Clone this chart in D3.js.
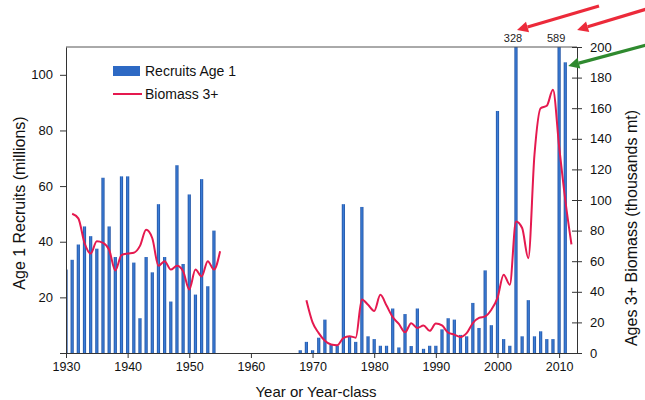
<!DOCTYPE html>
<html>
<head>
<meta charset="utf-8">
<script src="https://cdn.jsdelivr.net/npm/d3@7"></script>
<style>
  html, body { margin: 0; padding: 0; background: #fff; }
  svg { display: block; font-family: "Liberation Sans", Arial, sans-serif; }
</style>
</head>
<body>
<svg id="chart" width="645" height="400"></svg>
<script>
// ---- Data ----
const firstYear = 1930;
const lastYear = 2012;
const years = d3.range(firstYear, lastYear + 1);

// Age 1 recruits (millions), 1930..2012 (null = no data)
const recruits = [
  30, 33.5, 39, 45.5, 42, 37.5, 63, 45.5, 34.5, 63.5,          // 1930-1939
  63.5, 32.5, 12.5, 34.5, 29, 53.5, 34.5, 18.5, 67.5, 32,       // 1940-1949
  57, 21, 62.5, 24, 44, null, null, null, null, null,           // 1950-1959
  null, null, null, null, null, null, null, null, 1, 4,         // 1960-1969
  1, 5.5, 12, 3, 2.6, 53.5, 6, 4, 52.5, 6,                      // 1970-1979
  5, 2.6, 2.6, 16, 2, 14, 2.5, 16, 1.5, 2.6,                    // 1980-1989
  2.6, 8.5, 12.5, 12, 6.5, 6, 18, 9, 29.7, 10,                  // 1990-1999
  87, 5, 2.6, 328, 6, 19, 6, 7.8, 5, 5,                         // 2000-2009
  589, 104.5, null                                              // 2010-2012
];

// Age 3+ biomass (thousands mt), 1930..2012 (null = no data)
const biomass = [
  null, 91, 88, 72, 65, 73, 72, 67.5, 54, 64,                   // 1930-1939
  65, 65.5, 70, 80.5, 75, 57, 60, 54.5, 57, 53.5,               // 1940-1949
  41.5, 54.5, 50, 60, 54.5, 66.5, null, null, null, null,       // 1950-1959
  null, null, null, null, null, null, null, null, null, 34.5,   // 1960-1969
  20, 13, 8, 5.5, 5, 9.8, 11, 10, 35, 31.5,                     // 1970-1979
  27.5, 38, 31, 23.5, 19, 13.5, 19.5, 16.3, 18, 14.5,           // 1980-1989
  19.3, 18, 13.3, 12, 10.5, 13, 19.6, 22.9, 23.9, 28.3,         // 1990-1999
  36, 51.2, 44.6, 86, 81.7, 62, 129.6, 160, 161.6, 172,         // 2000-2009
  135, 100, 71                                                  // 2010-2012
];

const xTicks = [1930, 1940, 1950, 1960, 1970, 1980, 1990, 2000, 2010];
const yLeftTicks = [0, 20, 40, 60, 80, 100];
const yRightTicks = [0, 20, 40, 60, 80, 100, 120, 140, 160, 180, 200];
const seriesNames = ["Recruits Age 1", "Biomass 3+"];
const axisTitles = { x: "Year or Year-class", yLeft: "Age 1 Recruits (millions)", yRight: "Ages 3+ Biomass (thousands mt)" };

// ---- Layout ----
const W = 645, H = 400;
const plot = { left: 66, right: 577, top: 47, bottom: 353 };
const svg = d3.select("#chart");

const x = d3.scaleLinear().domain([1930.0, 2012.9]).range([plot.left, plot.right]);
const yL = d3.scaleLinear().domain([0, 110]).range([plot.bottom, plot.top]);
const yR = d3.scaleLinear().domain([0, 200]).range([plot.bottom, plot.top]);

const defs = svg.append("defs");
defs.append("clipPath").attr("id", "plotclip")
  .append("rect")
  .attr("x", plot.left).attr("y", plot.top)
  .attr("width", plot.right - plot.left).attr("height", plot.bottom - plot.top);

const grad = defs.append("linearGradient").attr("id", "barGrad")
  .attr("x1", "0%").attr("x2", "100%").attr("y1", "0%").attr("y2", "0%");
grad.append("stop").attr("offset", "0%").attr("stop-color", "#1f4f9f");
grad.append("stop").attr("offset", "50%").attr("stop-color", "#3c7fd9");
grad.append("stop").attr("offset", "100%").attr("stop-color", "#1f4f9f");

const barColor = "#2d69c4";
const lineColor = "#e5194f";
const barW = 3.2;

// ---- Bars ----
const barData = years.map((yr, i) => ({ yr, v: recruits[i] })).filter(d => d.v != null);
svg.append("g").attr("clip-path", "url(#plotclip)")
  .selectAll("rect").data(barData).join("rect")
  .attr("x", d => x(d.yr) - barW / 2)
  .attr("width", barW)
  .attr("y", d => yL(Math.min(d.v, 112)))
  .attr("height", d => yL(0) - yL(Math.min(d.v, 112)))
  .attr("fill", "url(#barGrad)");

// ---- Biomass line ----
const lineData = years.map((yr, i) => ({ yr, v: biomass[i] }));
const line = d3.line()
  .defined(d => d.v != null)
  .x(d => x(d.yr))
  .y(d => yR(d.v))
  .curve(d3.curveMonotoneX);
svg.append("path")
  .datum(lineData)
  .attr("d", line)
  .attr("fill", "none")
  .attr("stroke", lineColor)
  .attr("stroke-width", 2)
  .attr("stroke-linejoin", "round");

// ---- Axes ----
const axisColor = "#333";
svg.append("line")
  .attr("x1", plot.left).attr("x2", plot.right)
  .attr("y1", plot.top).attr("y2", plot.top)
  .attr("stroke", "#555").attr("stroke-width", 1);

const gx = svg.append("g").attr("transform", `translate(0,${plot.bottom})`)
  .call(d3.axisBottom(x).tickValues(xTicks).tickFormat(d3.format("d")).tickSize(5).tickPadding(4).tickSizeOuter(0));
gx.selectAll("text").attr("font-size", 12.5).attr("fill", "#111");

const gyl = svg.append("g").attr("transform", `translate(${plot.left},0)`)
  .call(d3.axisLeft(yL).tickValues(yLeftTicks).tickFormat(d => d === 0 ? "" : d).tickSize(6).tickPadding(7).tickSizeOuter(0));
gyl.selectAll("text").attr("font-size", 13).attr("fill", "#111");

const gyr = svg.append("g").attr("transform", `translate(${plot.right},0)`)
  .call(d3.axisRight(yR).tickValues(yRightTicks).tickSize(5).tickPadding(8).tickSizeOuter(0));
gyr.selectAll(".tick line").attr("x1", -5).attr("x2", 5);
gyr.selectAll("text").attr("font-size", 13).attr("fill", "#111");

[gx, gyl, gyr].forEach(g => {
  g.select(".domain").attr("stroke", axisColor);
  g.selectAll(".tick line").attr("stroke", axisColor);
  g.selectAll("text").attr("font-family", "'Liberation Sans', Arial, sans-serif");
});

// ---- Axis titles ----
svg.append("text")
  .attr("x", 316).attr("y", 397)
  .attr("text-anchor", "middle").attr("font-size", 15).attr("fill", "#111")
  .text(axisTitles.x);
svg.append("text")
  .attr("transform", "translate(25,203) rotate(-90)")
  .attr("text-anchor", "middle").attr("font-size", 16).attr("fill", "#111")
  .text(axisTitles.yLeft);
svg.append("text")
  .attr("transform", "translate(637,228) rotate(-90)")
  .attr("text-anchor", "middle").attr("font-size", 16).attr("fill", "#111")
  .text(axisTitles.yRight);

// ---- Off-scale labels ----
barData.filter(d => d.v > 110).forEach(d => {
  svg.append("text")
    .attr("x", x(d.yr) - 3).attr("y", 42)
    .attr("text-anchor", "middle").attr("font-size", 11).attr("fill", "#222")
    .text(d3.format("d")(d.v));
});

// ---- Legend ----
const lg = svg.append("g");
lg.append("rect").attr("x", 113).attr("y", 66).attr("width", 27).attr("height", 10).attr("fill", barColor);
lg.append("text").attr("x", 145).attr("y", 76).attr("font-size", 14).attr("fill", "#111").text(seriesNames[0]);
lg.append("line").attr("x1", 113).attr("x2", 142).attr("y1", 94).attr("y2", 94)
  .attr("stroke", lineColor).attr("stroke-width", 2);
lg.append("text").attr("x", 145).attr("y", 99).attr("font-size", 14).attr("fill", "#111").text(seriesNames[1]);

// ---- Annotation arrows ----
function arrow(x1, y1, x2, y2, color) {
  const ang = Math.atan2(y2 - y1, x2 - x1);
  const hl = 11, hw = 5.5;
  const bx = x2 - hl * Math.cos(ang), by = y2 - hl * Math.sin(ang);
  svg.append("line").attr("x1", x1).attr("y1", y1).attr("x2", bx).attr("y2", by)
    .attr("stroke", color).attr("stroke-width", 3.2);
  const px = -Math.sin(ang), py = Math.cos(ang);
  svg.append("path")
    .attr("d", `M${x2},${y2}L${bx + px * hw},${by + py * hw}L${bx - px * hw},${by - py * hw}Z`)
    .attr("fill", color);
}
const redArrow = "#ec2a3a";
const greenArrow = "#2f8a2f";
const yr2003 = x(2003), yr2010 = x(2010), yr2011 = x(2011);
arrow(599, 6, yr2003 + 1, 30, redArrow);
arrow(650, 8, yr2010 + 18, 30, redArrow);
arrow(650, 44, yr2011 + 3, 66, greenArrow);
</script>
</body>
</html>
